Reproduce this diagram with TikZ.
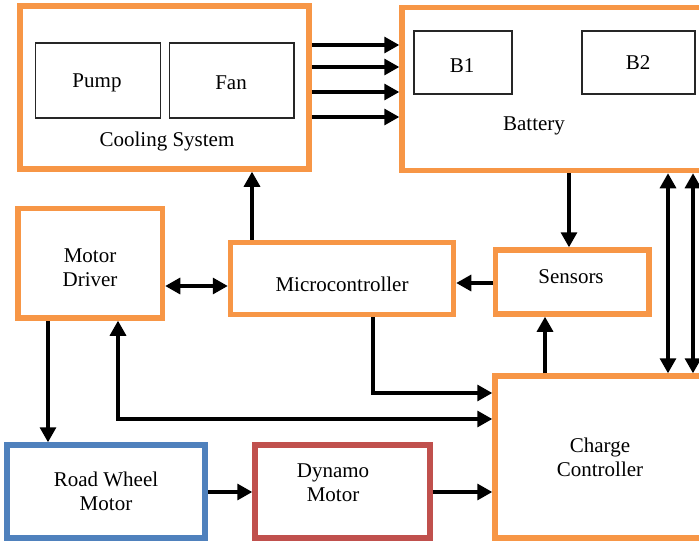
\documentclass[tikz,border=0pt]{standalone}
\usepackage{fontspec}
\setmainfont{Liberation Serif}
\newfontfamily\tnrfont{Liberation Serif}
\usetikzlibrary{arrows.meta,calc}
\definecolor{borange}{HTML}{F79646}
\definecolor{bblue}{HTML}{4F81BD}
\definecolor{bred}{HTML}{C0504D}
\begin{document}
\begin{tikzpicture}[x=1pt,y=-1pt,
 obox/.style={draw=borange,line width=5.5pt,inner sep=0pt,outer sep=2.75pt,anchor=north west,xshift=-2.75pt,yshift=2.75pt},
 tbox/.style={draw=black!85,line width=1.3pt,inner sep=0pt,outer sep=0.65pt,anchor=north west,xshift=-0.65pt,yshift=0.65pt},
 lbl/.style={font=\tnrfont\fontsize{21}{24}\selectfont,align=center,inner sep=0pt},
 arr/.style={line width=3.2pt,-{Triangle[length=15pt,width=16pt]}},
 darr/.style={line width=3.2pt,{Triangle[length=15pt,width=16pt]}-{Triangle[length=15pt,width=16pt]}}]
\clip (0,0) rectangle (699,541);
\fill[white] (0,0) rectangle (699,541);
% boxes
\node[obox,minimum width=289pt,minimum height=163pt] (cool) at (20,6) {};
\node[tbox,minimum width=125pt,minimum height=75pt] (pump) at (35.5,43) {};
\node[tbox,minimum width=124.5pt,minimum height=75pt] (fan) at (169.5,43) {};
\node[obox,minimum width=310pt,minimum height=163pt] (batt) at (402,7.5) {};
\node[tbox,minimum width=98pt,minimum height=63pt] (b1) at (414,31) {};
\node[tbox,minimum width=113pt,minimum height=63pt] (b2) at (582,31) {};
\node[obox,minimum width=144.5pt,minimum height=109.5pt] (md) at (18,208.5) {};
\node[obox,minimum width=223pt,minimum height=72pt] (micro) at (230.5,242.5) {};
\node[obox,minimum width=153.5pt,minimum height=64pt] (sens) at (495.5,250) {};
\node[obox,minimum width=215pt,minimum height=162pt] (charge) at (495,376) {};
\node[obox,draw=bblue,minimum width=198pt,minimum height=93pt] (road) at (7,445) {};
\node[obox,draw=bred,minimum width=175pt,minimum height=93pt] (dyn) at (255,445) {};
% labels
\node[lbl] (tpump) at (97,83) {Pump};
\node[lbl] (tfan) at (231,83) {Fan};
\node[lbl] (tcool) at (167,141) {Cooling System};
\node[lbl] (tb1) at (462,66) {B1};
\node[lbl] (tb2) at (638,63) {B2};
\node[lbl] (tbatt) at (534,126) {Battery};
\node[lbl] (tmd) at (90,268) {Motor\\Driver};
\node[lbl] (tmicro) at (342,284) {Microcontroller};
\node[lbl] (tsens) at (571,277) {Sensors};
\node[lbl] (tcharge) at (600,457) {Charge\\Controller};
\node[lbl] (troad) at (106,491) {Road Wheel\\Motor};
\node[lbl] (tdyn) at (333,483) {Dynamo\\Motor};
% connectors
\draw[arr] (cool.east |- 0,45) -- (batt.west |- 0,45);
\draw[arr] (cool.east |- 0,67) -- (batt.west |- 0,67);
\draw[arr] (cool.east |- 0,92) -- (batt.west |- 0,92);
\draw[arr] (cool.east |- 0,117) -- (batt.west |- 0,117);
\draw[arr] (micro.north -| 252,0) -- (cool.south -| 252,0);
\draw[darr] (md.east |- 0,286) -- (micro.west |- 0,286);
\draw[arr] (sens.west |- 0,283) -- (micro.east |- 0,283);
\draw[arr] (batt.south -| 569,0) -- (sens.north -| 569,0);
\draw[arr] (charge.north -| 545,0) -- (sens.south -| 545,0);
\draw[darr] (batt.south -| 668,0) -- (charge.north -| 668,0);
\draw[darr] (batt.south -| 693,0) -- (charge.north -| 693,0);
\draw[arr] (micro.south -| 373,0) |- (charge.west |- 0,393);
\draw[darr] (md.south -| 118,0) |- (charge.west |- 0,419);
\draw[arr] (md.south -| 48,0) -- (road.north -| 48,0);
\draw[arr] (road.east |- 0,492) -- (dyn.west |- 0,492);
\draw[arr] (dyn.east |- 0,492) -- (charge.west |- 0,492);
\end{tikzpicture}
\end{document}
